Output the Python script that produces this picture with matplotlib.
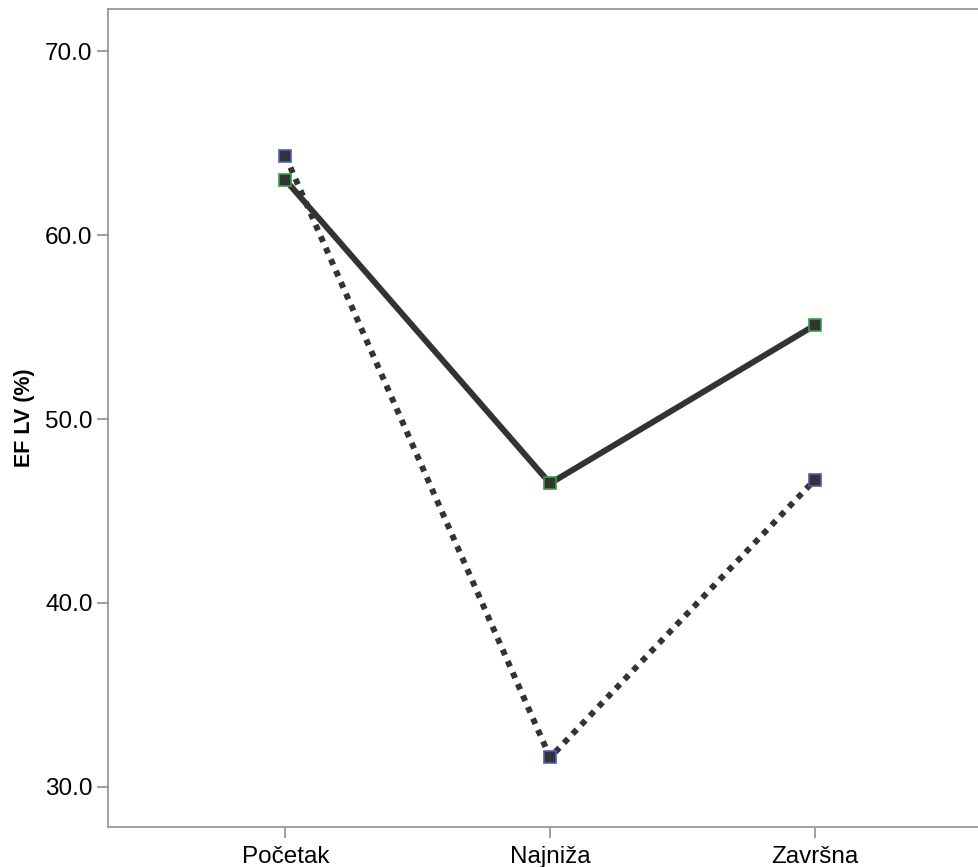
import matplotlib.pyplot as plt

plt.rcParams['font.family'] = ['Liberation Sans', 'DejaVu Sans']

categories = ["Početak", "Najniža", "Završna"]
solid_values = [63.0, 46.5, 55.1]
dotted_values = [64.3, 31.6, 46.7]
y_ticks = [30.0, 40.0, 50.0, 60.0, 70.0]

fig = plt.figure(figsize=(9.79, 8.67), dpi=100)
ax = fig.add_axes([0.1103, 0.0461, 0.8897, 0.9435])

x = list(range(len(categories)))
dark = '#333333'

ax.plot(x, dotted_values, color=dark, linewidth=4.3, linestyle=(0, (1.0, 1.1)),
        dash_capstyle='butt', marker='s', markersize=8.5,
        markerfacecolor=dark, markeredgecolor='#4a5fbf', markeredgewidth=1.2, zorder=3)
ax.plot(x, solid_values, color=dark, linewidth=4.3, linestyle='-',
        marker='s', markersize=8.5,
        markerfacecolor=dark, markeredgecolor='#3aa040', markeredgewidth=1.2, zorder=4)

ax.set_xlim(-0.67, 2.62)
ax.set_ylim(27.82, 72.29)
ax.set_xticks(x)
ax.set_xticklabels(categories, fontsize=17.5)
ax.set_yticks(y_ticks)
ax.set_yticklabels([f"{v:.1f}" for v in y_ticks], fontsize=17.5)
ax.set_ylabel("EF LV (%)", fontsize=15.5, fontweight='bold', labelpad=7)

for s in ax.spines.values():
    s.set_color('#999999')
    s.set_linewidth(1.3)
ax.spines['right'].set_visible(False)
ax.tick_params(axis='both', color='#999999', length=8, width=1.3, direction='out')
ax.tick_params(axis='x', pad=6)
ax.tick_params(axis='y', pad=3)

fig.savefig('out.png', dpi=100)
